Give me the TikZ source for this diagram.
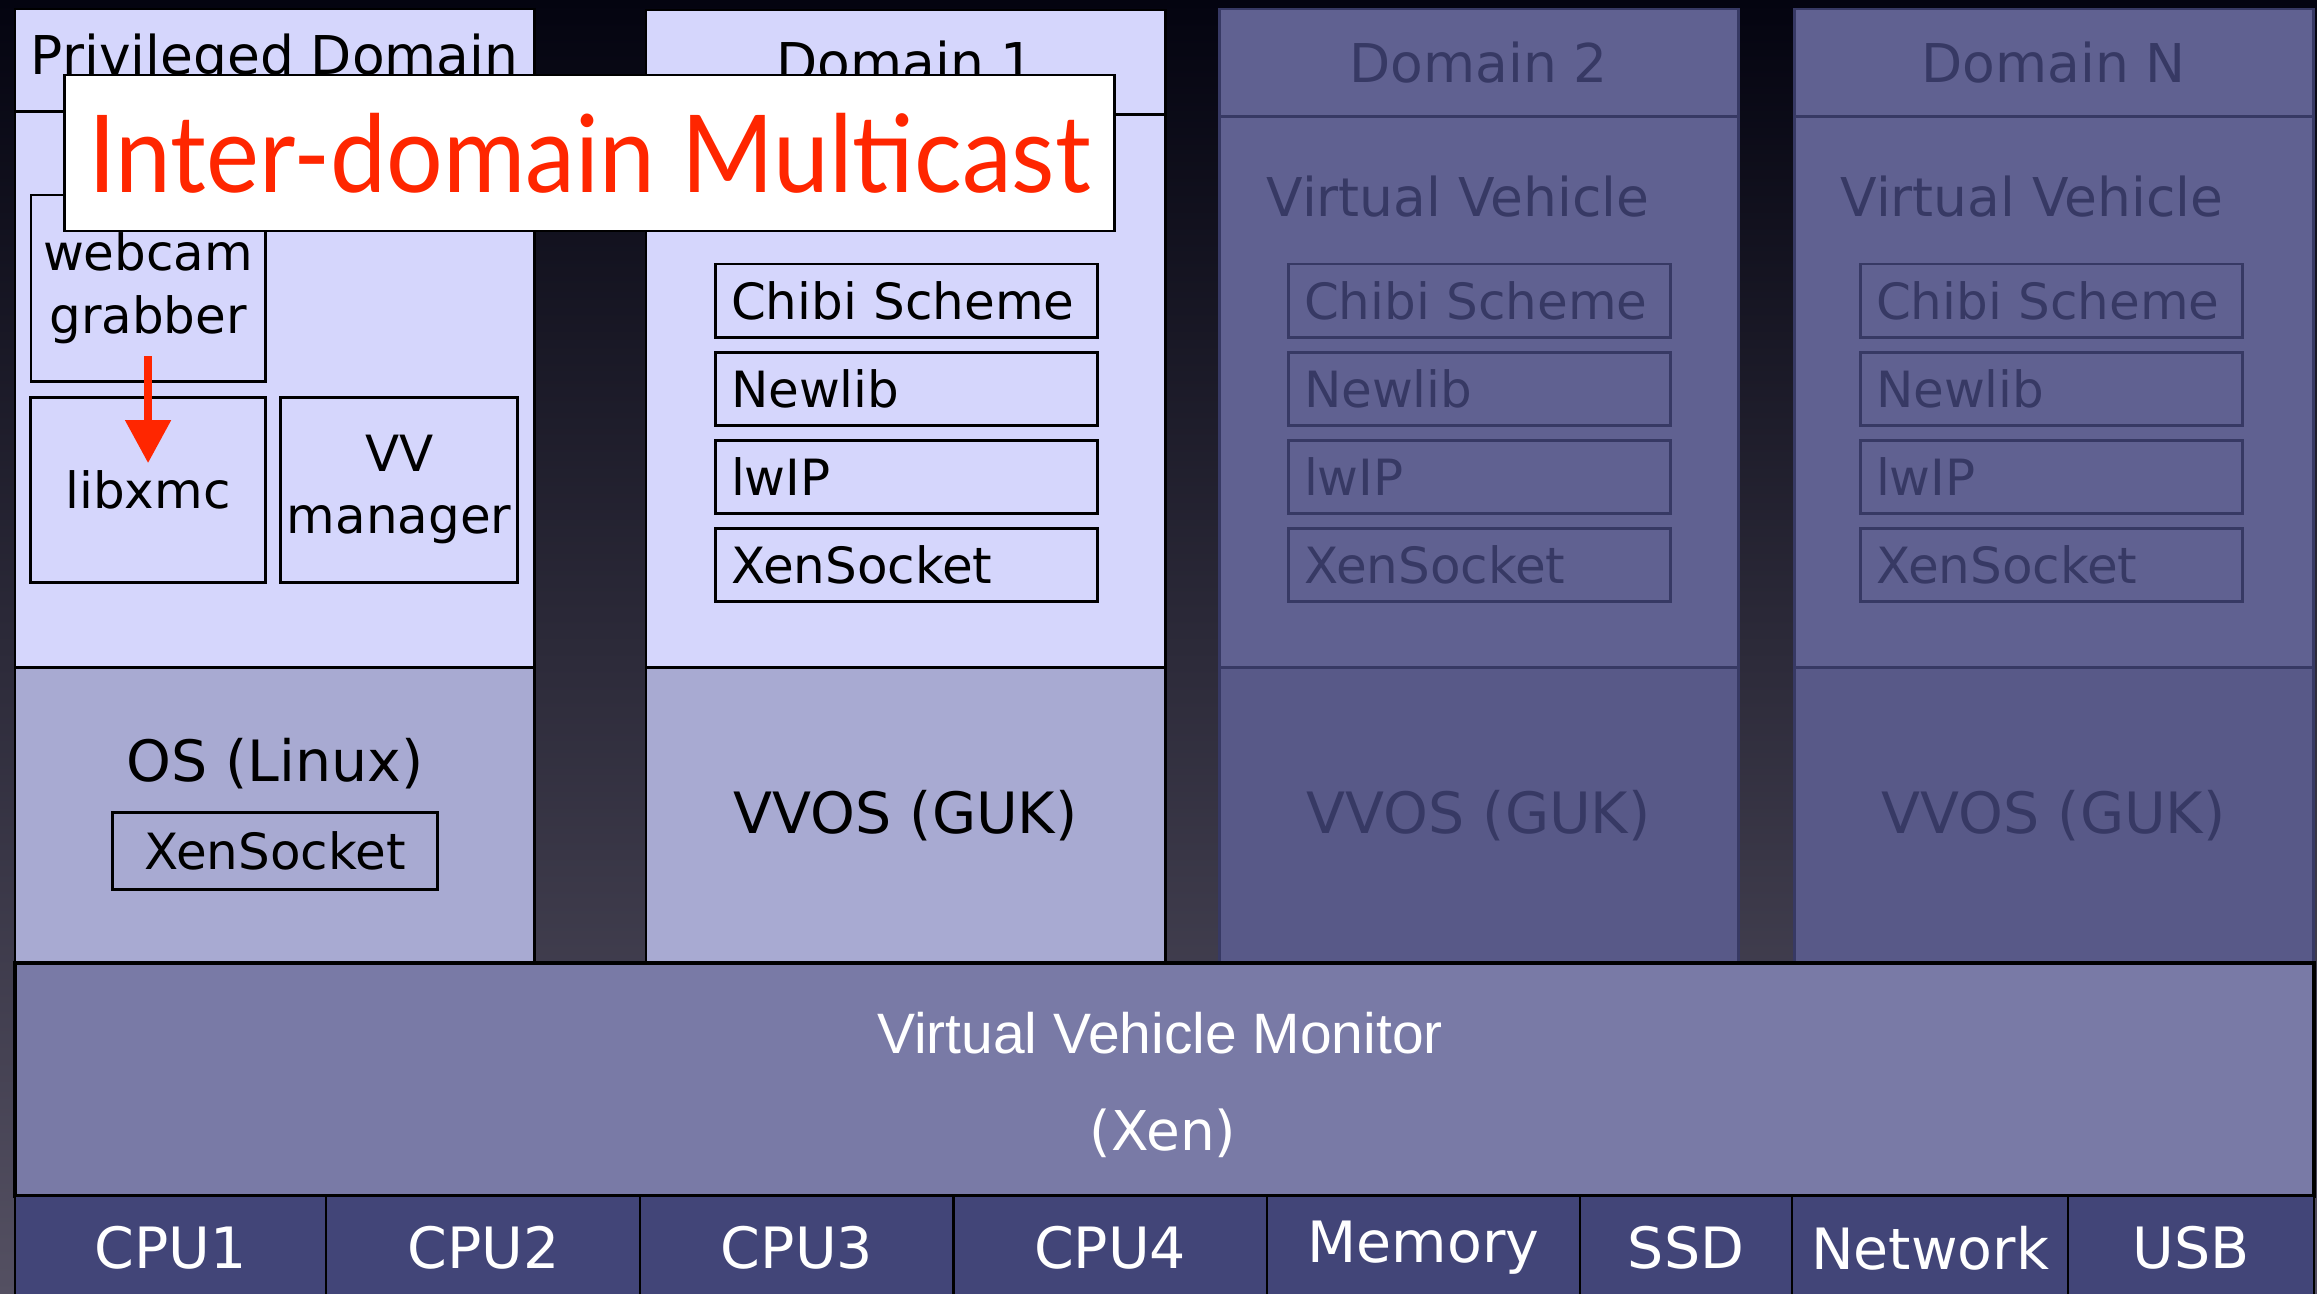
\documentclass[tikz,border=0pt]{standalone}
\usepackage{fontspec}
\setmainfont{DejaVu Sans}
\newfontfamily\monfont{Liberation Sans}
\newfontfamily\titlefont[FakeStretch=0.93]{Lato}
\usepackage{tikz}
\usetikzlibrary{arrows.meta,positioning}

\definecolor{lav}{RGB}{213,214,252}
\definecolor{oslav}{RGB}{168,170,210}
\definecolor{dimtop}{RGB}{96,97,145}
\definecolor{dimbot}{RGB}{88,89,136}
\definecolor{dimline}{RGB}{55,57,100}
\definecolor{vvmfill}{RGB}{121,122,166}
\definecolor{hwfill}{RGB}{66,69,120}
\definecolor{mcred}{RGB}{255,38,0}
\definecolor{bgtop}{RGB}{4,4,16}
\definecolor{bgmid}{RGB}{26,26,44}
\definecolor{bgbot}{RGB}{84,80,98}

\begin{document}
\begin{tikzpicture}[x=0.01cm, y=-0.01cm,
  every node/.style = {inner sep=0pt, outer sep=0pt},
  panel/.style = {draw, line width=0.85pt, anchor=north west, minimum width=5.19cm},
  dimpanel/.style = {panel, draw=dimline, text=dimline},
  hdr/.style = {font=\fontsize{15.2}{18}\selectfont},
  big/.style = {font=\fontsize{16.2}{19}\selectfont},
  small/.style = {font=\fontsize{14.2}{17.8}\selectfont},
  libbox/.style = {draw, line width=0.85pt, small, anchor=north west,
    text width=3.50cm, inner xsep=0.16cm, minimum height=0.73cm, align=left},
  dimlib/.style = {libbox, draw=dimline, text=dimline},
  appbox/.style = {draw, line width=0.85pt, small, align=center,
    minimum width=2.35cm, minimum height=1.85cm},
  hwcell/.style = {draw, line width=0.6pt, fill=hwfill, text=white,
    minimum height=1.04cm, font=\fontsize{16.2}{19}\selectfont},
  titlebox/.style = {draw, line width=0.7pt, fill=white, text=mcred,
    minimum width=10.49cm, minimum height=1.56cm,
    font=\titlefont\fontsize{30.6}{36}\selectfont},
  mcarrow/.style = {-{Triangle[width=0.44cm,length=0.43cm]}, line width=2.3pt, mcred},
]
\useasboundingbox (0,0) rectangle (2317,1294);
\clip (0,0) rectangle (2317,1294);
\shade[top color=bgtop, middle color=bgmid, bottom color=bgbot] (0,0) rectangle (2317,1294);

% privileged domain
\node[panel, fill=lav, minimum height=1.02cm, hdr] (privhd) at (15,9) {Privileged Domain};
\node[panel, fill=lav, minimum height=5.56cm, below=0pt of privhd] (privbody) {};
\node[panel, fill=oslav, minimum height=2.96cm, below=0pt of privbody] (privos) {};
\node[big] (oslabel) at (275,764) {OS (Linux)};
\node[draw, line width=0.85pt, small, minimum width=3.25cm, minimum height=0.77cm] (osxs) at (275,851) {XenSocket};
\node[appbox, anchor=north west, minimum width=2.34cm, minimum height=1.86cm] (webcam) at (31,195) {webcam\\grabber};
\node[appbox, below=0.16cm of webcam] (libxmc) {libxmc};
\node[appbox, minimum width=2.37cm, right=0.15cm of libxmc] (vvmgr) {VV\\manager};

% domain 1
\node[panel, fill=lav, minimum height=1.04cm, hdr] (d1hd) at (646,10) {Domain 1};
\node[panel, fill=lav, minimum height=5.53cm, below=0pt of d1hd] (d1body) {};
\node[panel, fill=oslav, minimum height=2.96cm, big, below=0pt of d1body] (d1os) {VVOS (GUK)};
\node[libbox] (d1chibi) at (715,264) {Chibi Scheme};
\node[libbox, below=0.15cm of d1chibi] (d1newlib) {Newlib};
\node[libbox, below=0.15cm of d1newlib] (d1lwip) {lwIP};
\node[libbox, below=0.15cm of d1lwip] (d1xs) {XenSocket};

% domain 2
\node[dimpanel, fill=dimtop, minimum height=1.07cm, hdr] (d2hd) at (1219,9) {Domain 2};
\node[dimpanel, fill=dimtop, minimum height=5.51cm, below=0pt of d2hd] (d2body) {};
\node[dimpanel, fill=dimbot, minimum height=2.96cm, big, below=0pt of d2body] (d2os) {VVOS (GUK)};
\node[hdr, text=dimline] (d2vv) at (1458,197) {Virtual Vehicle};
\node[dimlib] (d2chibi) at (1288,264) {Chibi Scheme};
\node[dimlib, below=0.15cm of d2chibi] (d2newlib) {Newlib};
\node[dimlib, below=0.15cm of d2newlib] (d2lwip) {lwIP};
\node[dimlib, below=0.15cm of d2lwip] (d2xs) {XenSocket};

% domain N
\node[dimpanel, fill=dimtop, minimum height=1.07cm, hdr] (dnhd) at (1794,9) {Domain N};
\node[dimpanel, fill=dimtop, minimum height=5.51cm, below=0pt of dnhd] (dnbody) {};
\node[dimpanel, fill=dimbot, minimum height=2.96cm, big, below=0pt of dnbody] (dnos) {VVOS (GUK)};
\node[hdr, text=dimline] (dnvv) at (2032,197) {Virtual Vehicle};
\node[dimlib] (dnchibi) at (1860,264) {Chibi Scheme};
\node[dimlib, below=0.15cm of dnchibi] (dnnewlib) {Newlib};
\node[dimlib, below=0.15cm of dnnewlib] (dnlwip) {lwIP};
\node[dimlib, below=0.15cm of dnlwip] (dnxs) {XenSocket};

% monitor and hardware
\node[draw, line width=1.1pt, fill=vvmfill, anchor=north west, minimum width=22.98cm, minimum height=2.33cm] (vvm) at (15,963) {};
\node[text=white, font=\monfont\fontsize{16.2}{19}\selectfont] (vvmname) at (1160,1033) {Virtual Vehicle Monitor};
\node[text=white, font=\fontsize{15.6}{19}\selectfont] (xen) at (1163,1133) {(Xen)};
\node[hwcell, anchor=north west, minimum width=3.11cm] (cpu1) at (15,1196) {CPU1};
\node[hwcell, minimum width=3.14cm, right=0pt of cpu1] (cpu2) {CPU2};
\node[hwcell, minimum width=3.13cm, right=0pt of cpu2] (cpu3) {CPU3};
\node[hwcell, minimum width=3.13cm, right=0pt of cpu3] (cpu4) {CPU4};
\node[hwcell, minimum width=3.13cm, right=0pt of cpu4] (mem) {Memory};
\node[hwcell, minimum width=2.12cm, right=0pt of mem] (ssd) {SSD};
\node[hwcell, minimum width=2.76cm, right=0pt of ssd] (net) {Network};
\node[hwcell, minimum width=2.46cm, right=0pt of net] (usb) {USB};

\draw[mcarrow] ([yshift=0.25cm]webcam.south) -- ([yshift=-0.66cm]libxmc.north);
\node[titlebox] (title) at (589.5,153) {Inter-domain Multicast};
\end{tikzpicture}
\end{document}
